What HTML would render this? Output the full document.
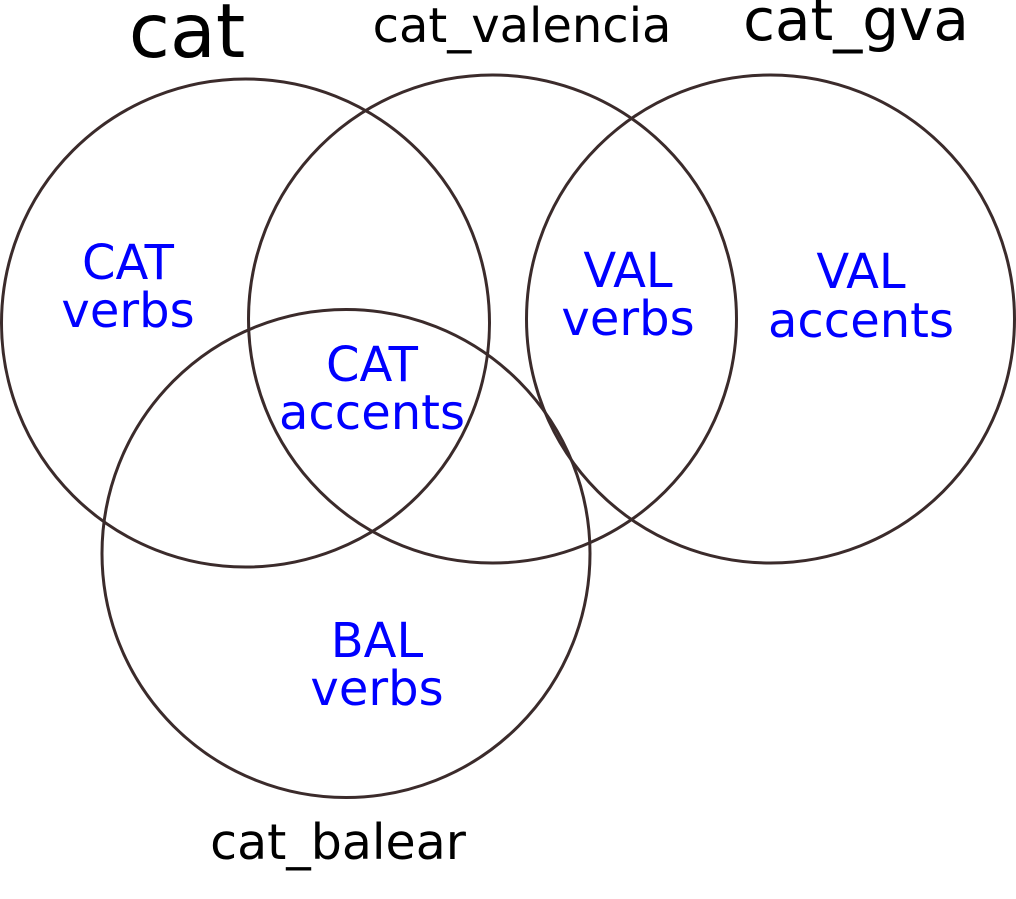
<!DOCTYPE html>
<html><head><meta charset="utf-8"><style>html,body{margin:0;padding:0;background:#fff;}svg{display:block;}</style></head>
<body>
<svg width="1016" height="899" viewBox="0 0 1016 899" xmlns="http://www.w3.org/2000/svg" font-family="'DejaVu Sans','Liberation Sans',sans-serif">
<g fill="none" stroke="#3b2b2b" stroke-width="3">
<circle cx="245.5" cy="323" r="244"/>
<circle cx="492.5" cy="319" r="244"/>
<circle cx="770.5" cy="319" r="244"/>
<circle cx="346" cy="553.5" r="244"/>
</g>
<g fill="#000">
<text x="187" y="57" font-size="75" text-anchor="middle">cat</text>
<text x="522" y="42" font-size="48" text-anchor="middle">cat_valencia</text>
<text x="856" y="40" font-size="58" text-anchor="middle">cat_gva</text>
<text x="338" y="859" font-size="49" text-anchor="middle">cat_balear</text>
</g>
<g fill="#0000ff" font-size="48" text-anchor="middle">
<text x="128" y="279">CAT</text><text x="128" y="327">verbs</text>
<text x="372" y="381">CAT</text><text x="372" y="429">accents</text>
<text x="628" y="287">VAL</text><text x="628" y="335">verbs</text>
<text x="861" y="288">VAL</text><text x="861" y="337">accents</text>
<text x="377" y="657">BAL</text><text x="377" y="705">verbs</text>
</g>
</svg>
</body></html>
